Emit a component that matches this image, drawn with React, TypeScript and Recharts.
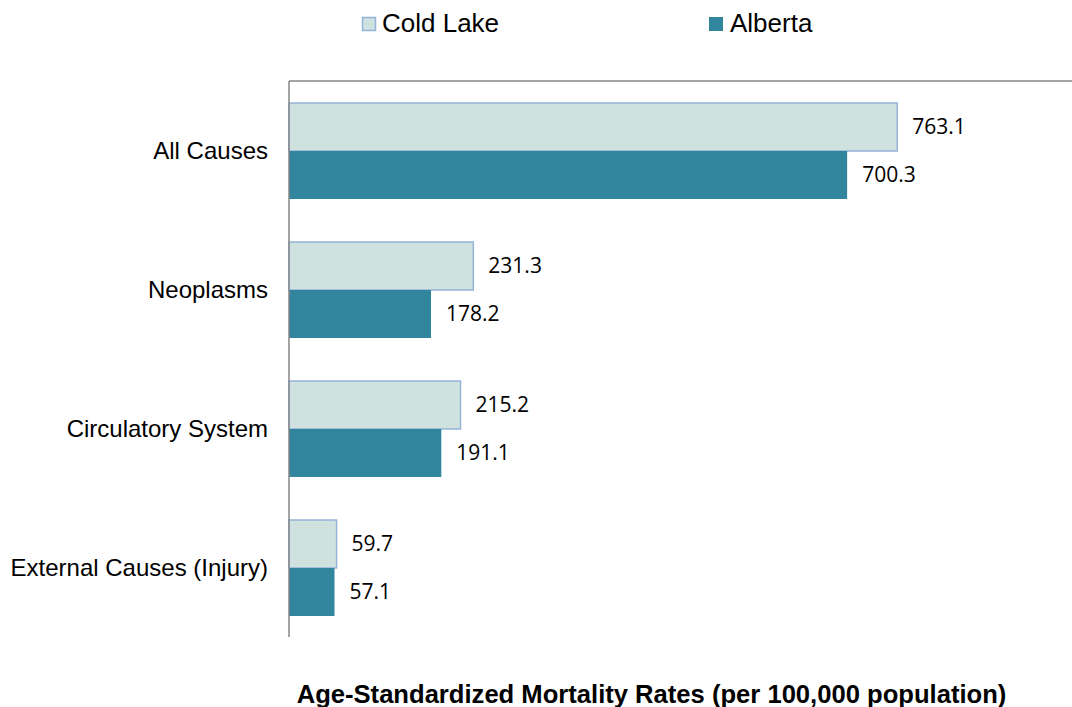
import { Bar, BarChart, CartesianGrid, LabelList, Legend, XAxis, YAxis } from "recharts";

const categories = ["All Causes", "Neoplasms", "Circulatory System", "External Causes (Injury)"];
const coldLake = [763.1, 231.3, 215.2, 59.7];
const alberta = [700.3, 178.2, 191.1, 57.1];
const seriesNames = ["Cold Lake", "Alberta"];
const axisTitle = "Age-Standardized Mortality Rates (per 100,000 population)";

const data = categories.map((name, i) => ({
  name,
  coldLake: coldLake[i],
  alberta: alberta[i],
}));

const LIGHT = "#CFE2DF";
const LIGHT_STROKE = "#95B3D7";
const DARK = "#31859C";
const AXIS = "#868686";
const SANS = "'Liberation Sans', Arial, sans-serif";

function LegendContent() {
  return (
    <svg width={1072} height={50} style={{ display: "block" }}>
      <rect x={362.5} y={17.5} width={13} height={13} fill={LIGHT} stroke={LIGHT_STROKE} strokeWidth={1.5} />
      <text x={382} y={32} fontSize={26} fontFamily={SANS} fill="#000">
        {seriesNames[0]}
      </text>
      <rect x={709.5} y={17.5} width={13} height={13} fill={DARK} stroke={DARK} strokeWidth={1} />
      <text x={730} y={32} fontSize={26} fontFamily={SANS} fill="#000">
        {seriesNames[1]}
      </text>
    </svg>
  );
}

export default function App() {
  return (
    <div
      style={{
        position: "fixed",
        left: 0,
        top: 0,
        width: 1072,
        height: 707,
        overflow: "hidden",
        background: "#fff",
      }}
    >
      <BarChart
        width={1100}
        height={707}
        data={data}
        layout="vertical"
        margin={{ top: 81, right: 14, bottom: 0, left: 0 }}
        barCategoryGap={22}
        barGap={0}
      >
        {/* top frame line of the plot area only */}
        <CartesianGrid
          vertical={false}
          stroke={AXIS}
          strokeWidth={1.5}
          horizontalCoordinatesGenerator={({ offset }: any) => [offset.top]}
        />
        <XAxis
          type="number"
          domain={[0, 1000]}
          height={70}
          tick={false}
          tickLine={false}
          axisLine={false}
          label={{
            value: axisTitle,
            position: "insideBottom",
            offset: 4,
            dx: -36,
            fontSize: 25.6,
            fontWeight: "bold",
            fontFamily: SANS,
            fill: "#000",
          }}
        />
        <YAxis
          type="category"
          dataKey="name"
          width={289}
          tickSize={0}
          tickMargin={21}
          tickLine={false}
          axisLine={{ stroke: AXIS, strokeWidth: 1.5 }}
          tick={{ fill: "#000", fontSize: 24, fontFamily: SANS }}
        />
        <Legend
          layout="vertical"
          align="center"
          verticalAlign="middle"
          wrapperStyle={{ top: 0, left: 0, width: 1072, height: 50 }}
          content={() => <LegendContent />}
        />
        <Bar
          dataKey="coldLake"
          name={seriesNames[0]}
          fill={LIGHT}
          stroke={LIGHT_STROKE}
          strokeWidth={1.5}
          isAnimationActive={false}
        >
          <LabelList
            dataKey="coldLake"
            position="right"
            offset={15}
            fill="#000"
            fontSize={21}
            fontFamily="'Open Sans', sans-serif"
            formatter={(v: number) => v.toFixed(1)}
          />
        </Bar>
        <Bar dataKey="alberta" name={seriesNames[1]} fill={DARK} isAnimationActive={false}>
          <LabelList
            dataKey="alberta"
            position="right"
            offset={15}
            fill="#000"
            fontSize={21}
            fontFamily="'Open Sans', sans-serif"
            formatter={(v: number) => v.toFixed(1)}
          />
        </Bar>
      </BarChart>
    </div>
  );
}
